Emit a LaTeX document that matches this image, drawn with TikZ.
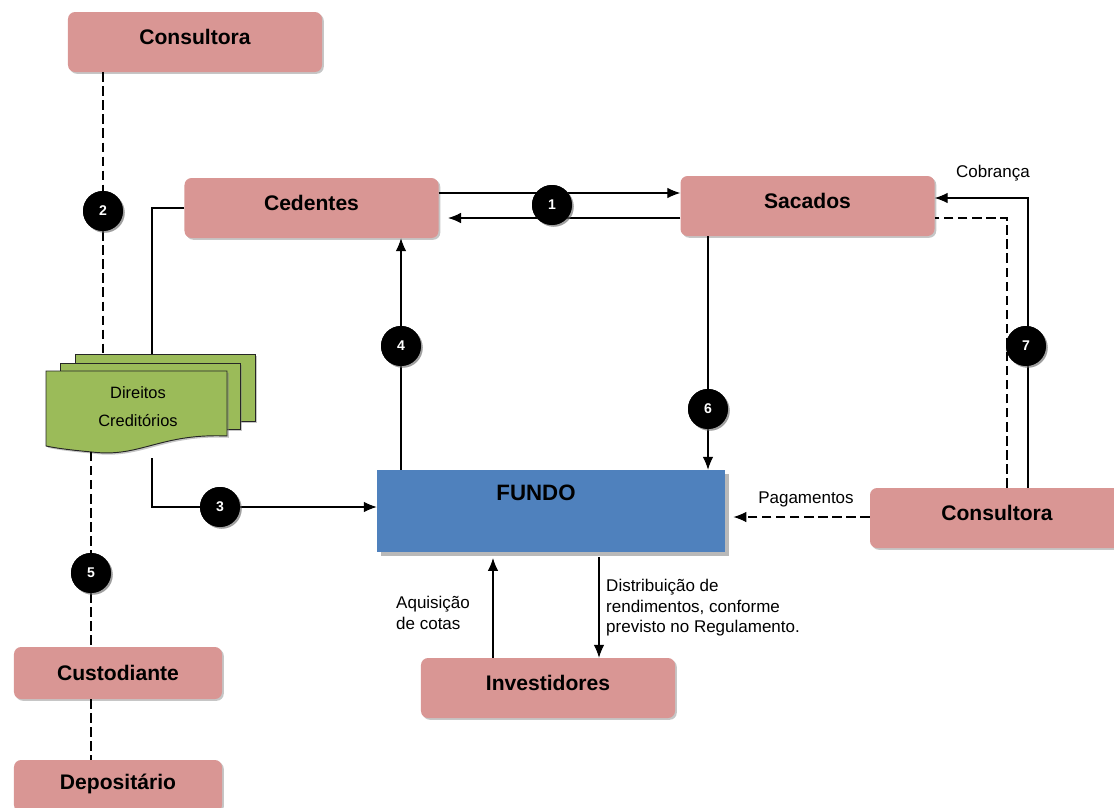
\documentclass[tikz,border=0pt]{standalone}
\usepackage{fontspec}
\setmainfont{Liberation Sans}
\usetikzlibrary{arrows.meta,shadows}
\definecolor{boxpink}{HTML}{D99694}
\definecolor{fundoblue}{HTML}{4F81BD}
\definecolor{docgreen}{HTML}{9BBB59}
\newcommand\upt[1]{\raisebox{9pt}{#1}}
\tikzset{
  pinkbox/.style={draw=none, fill=boxpink, rounded corners=6pt, minimum width=7.62cm, minimum height=1.8cm,
    font=\fontsize{18}{20}\selectfont\bfseries, text=black,
    drop shadow={shadow xshift=1.5pt, shadow yshift=-1.5pt, fill=gray, opacity=0.45}},
  numcirc/.style={circle, fill=black, minimum size=1.2cm, inner sep=0pt, text=white,
    font=\fontsize{12}{13}\selectfont\bfseries,
    drop shadow={shadow xshift=1.5pt, shadow yshift=-1.5pt, fill=gray, opacity=0.5}},
  arr/.style={-{Latex[length=11pt,width=9pt]}, line width=0.9pt},
  conn/.style={line width=0.9pt},
  dconn/.style={line width=0.9pt, dash pattern=on 8pt off 4pt},
  lbl/.style={font=\fontsize{14.5}{17.5}\selectfont, text=black, inner sep=0pt},
  docsheet/.style={fill=docgreen, draw=black!85, line width=0.8pt,
    drop shadow={shadow xshift=1.5pt, shadow yshift=-1.5pt, fill=gray, opacity=0.45}},
}
\begin{document}
\begin{tikzpicture}[x=0.03cm,y=-0.03cm]
\useasboundingbox (0,0) rectangle (1114,807);

% boxes
\node[pinkbox] (consTop) at (195,42) {\upt{Consultora}};
\node[pinkbox] (ced) at (311.5,208) {\upt{Cedentes}};
\node[pinkbox] (sac) at (807.5,206) {\upt{Sacados}};
\node[pinkbox] (consR) at (997,518) {\upt{Consultora}};
\node[pinkbox] (inv) at (548,688) {\upt{Investidores}};
\node[pinkbox, minimum width=6.24cm, minimum height=1.56cm] (cust) at (118,673) {Custodiante};
\node[pinkbox, minimum width=6.24cm, minimum height=1.56cm] (dep) at (118,786) {\raisebox{8pt}{Depositário}};

% fundo
\node[fill=fundoblue, minimum width=10.44cm, minimum height=2.46cm, inner sep=0pt,
  drop shadow={shadow xshift=3pt, shadow yshift=-3pt, fill=gray, opacity=0.55}] (fundo) at (551,511) {};
\node[font=\fontsize{19}{20}\selectfont\bfseries, text=black] (fundoTxt) at (536,493) {FUNDO};

% document stack
\node[docsheet, minimum width=5.4cm, minimum height=2.01cm, inner sep=0pt] (docB) at (165,387.5) {};
\node[docsheet, minimum width=5.4cm, minimum height=1.98cm, inner sep=0pt] (docM) at (150,396) {};
\path[docsheet] (46,371) -- (227,371) -- (227,436)
   .. controls (160,433) and (140,458) .. (92,452)
   .. controls (70,450) and (55,448) .. (46,446) -- cycle;
\node[lbl, font=\fontsize{14}{17}\selectfont] (doctxt1) at (138,393) {Direitos};
\node[lbl, font=\fontsize{14}{17}\selectfont] (doctxt2) at (138,421) {Creditórios};
\coordinate (dbot) at (91,452);
\coordinate (j1) at (152,354);
\coordinate (d3) at (152,458);

% circles
\node[numcirc] (n1) at (552,205) {1};
\node[numcirc] (n2) at (103,211) {2};
\node[numcirc] (n3) at (220,507) {3};
\node[numcirc] (n4) at (401,346) {4};
\node[numcirc] (n5) at (91,573) {5};
\node[numcirc] (n6) at (708,409) {6};
\node[numcirc] (n7) at (1026,346) {7};

% helper coordinates
\coordinate (a1) at (552,193);
\coordinate (a2) at (552,218);
\coordinate (cob) at (1028,198);
\coordinate (dsh) at (1007,218);
\coordinate (pag) at (800,517);
\coordinate (aq) at (493,600);
\coordinate (ds) at (599,600);

% connectors
\draw[dconn] (consTop.south -| n2) -- (n2);
\draw[dconn] (n2) -- (docB.north -| n2);
\draw[conn] (ced.west) -| (j1);
\draw[dconn] (dbot) -- (n5);
\draw[dconn] (n5) -- (cust.north -| n5);
\draw[dconn] (cust.south -| n5) -- (dep.north -| n5);
\draw[conn] (d3) |- (n3);
\draw[arr] (n3) -- (fundo.west |- n3);
\draw[arr] (ced.east |- a1) -- (sac.west |- a1);
\draw[arr, shorten >=8pt] (sac.west |- a2) -- (ced.east |- a2);
\draw[conn] (fundo.north -| n4) -- (n4);
\draw[arr] (n4) -- (ced.south -| n4);
\draw[conn] (sac.south -| n6) -- (n6);
\draw[arr] (n6) -- (fundo.north -| n6);
\draw[arr] (consR.north -| cob) -- (cob) -- (sac.east |- cob);
\draw[dconn] (consR.north -| dsh) -- (dsh) -- (sac.east |- dsh);
\draw[arr, dash pattern=on 8pt off 4pt] (consR.west |- pag) -- ([xshift=7pt]fundo.east |- pag);
\draw[arr, shorten >=5pt] (inv.north -| aq) -- (fundo.south -| aq);
\draw[arr, shorten <=4pt] (fundo.south -| ds) -- (inv.north -| ds);

% circles on top of connectors
\node[numcirc] (c1) at (n1) {1};
\node[numcirc] (c2) at (n2) {2};
\node[numcirc] (c3) at (n3) {3};
\node[numcirc] (c4) at (n4) {4};
\node[numcirc] (c5) at (n5) {5};
\node[numcirc] (c6) at (n6) {6};
\node[numcirc] (c7) at (n7) {7};

% labels
\node[lbl] (lcob) at (993,173) {Cobrança};
\node[lbl] (lpag) at (806,499) {Pagamentos};
\node[lbl, align=left, anchor=west] (laq) at (396,613) {Aquisição\\de cotas};
\node[lbl, align=left, anchor=north west] (ldist) at (606,579) {Distribuição de\\rendimentos, conforme\\previsto no Regulamento.};
\end{tikzpicture}
\end{document}
